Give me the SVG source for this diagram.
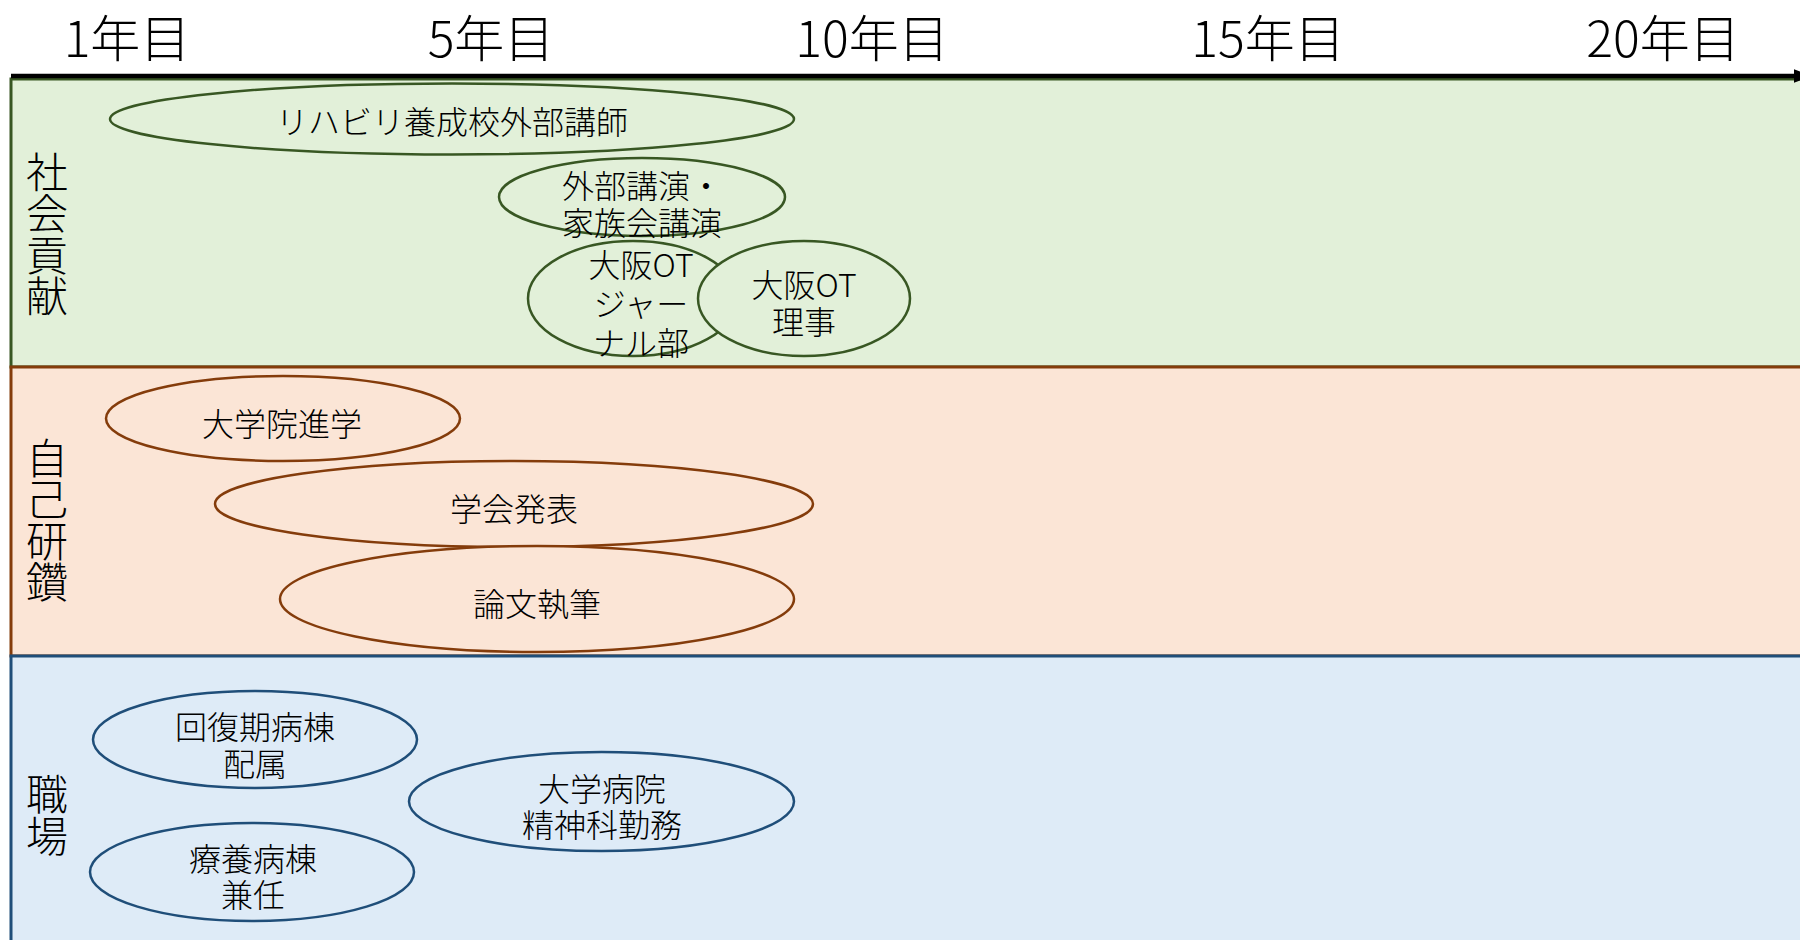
<svg xmlns="http://www.w3.org/2000/svg" width="1800" height="940" viewBox="0 0 1800 940">
<defs>
<style>
text{font-family:"Noto Sans CJK JP","Noto Sans",sans-serif;font-weight:300;fill:#000;text-anchor:middle;dominant-baseline:central}
.ax{font-size:50px}
.lane{font-size:42px;writing-mode:vertical-rl;letter-spacing:-0.5px}
.t{font-size:32px}
.g{fill:#E2F0D9;stroke:#385723}
.o{fill:#FBE5D6;stroke:#843C0B}
.b{fill:#DEEBF7;stroke:#1F4E79}
.band{stroke-width:3}
.el{stroke-width:2.5}
</style>
<marker id="arr" viewBox="0 0 10 10" refX="10" refY="5" markerWidth="4" markerHeight="3" orient="auto" markerUnits="strokeWidth" preserveAspectRatio="none">
<path d="M0,0 L10,5 L0,10 z" fill="#000"/>
</marker>
</defs>
<rect width="1800" height="940" fill="#fff"/>
<g id="bands">
<rect id="band-social" class="g band" x="11" y="79" width="1800" height="288"/>
<rect id="band-self" class="o band" x="11" y="367" width="1800" height="289"/>
<rect id="band-work" class="b band" x="11" y="656" width="1800" height="300"/>
</g>
<g id="connectors">
<line x1="11" y1="76" x2="1812" y2="76" stroke="#000" stroke-width="4.5" marker-end="url(#arr)"/>
</g>
<g id="axis-labels">
<text class="ax" x="127" y="35">1年目</text>
<text class="ax" x="491" y="35">5年目</text>
<text class="ax" x="872" y="35">10年目</text>
<text class="ax" x="1268" y="35">15年目</text>
<text class="ax" x="1663" y="35">20年目</text>
</g>
<g id="lane-social"><text class="lane" x="47" y="234">社会貢献</text></g>
<g id="lane-self"><text class="lane" x="47" y="520">自己研鑽</text></g>
<g id="lane-work"><text class="lane" x="47" y="815">職場</text></g>

<g id="n-rehab"><ellipse class="g el" cx="452" cy="119" rx="342" ry="35.5"/><text class="t" x="452" y="120">リハビリ養成校外部講師</text></g>
<g id="n-lecture"><ellipse class="g el" cx="642" cy="197" rx="143" ry="39"/><text class="t"><tspan x="642" y="184">外部講演・</tspan><tspan x="642" y="221">家族会講演</tspan></text></g>
<g id="n-journal"><ellipse class="g el" cx="633" cy="298.5" rx="105" ry="57.5"/><text class="t"><tspan x="641" y="263">大阪OT</tspan><tspan x="641" y="302">ジャー</tspan><tspan x="641" y="341">ナル部</tspan></text></g>
<g id="n-director"><ellipse class="g el" cx="804" cy="298.5" rx="106" ry="57.5"/><text class="t"><tspan x="804" y="283">大阪OT</tspan><tspan x="804" y="320">理事</tspan></text></g>

<g id="n-grad"><ellipse class="o el" cx="283" cy="418.5" rx="177" ry="42.5"/><text class="t" x="282" y="422">大学院進学</text></g>
<g id="n-conf"><ellipse class="o el" cx="514" cy="504" rx="299" ry="43"/><text class="t" x="514" y="507">学会発表</text></g>
<g id="n-paper"><ellipse class="o el" cx="537" cy="599" rx="257" ry="53"/><text class="t" x="537" y="602">論文執筆</text></g>

<g id="n-recovery"><ellipse class="b el" cx="255" cy="739.5" rx="162" ry="48.5"/><text class="t"><tspan x="255" y="725">回復期病棟</tspan><tspan x="255" y="762">配属</tspan></text></g>
<g id="n-care"><ellipse class="b el" cx="252" cy="872" rx="162" ry="49"/><text class="t"><tspan x="253" y="857">療養病棟</tspan><tspan x="253" y="893">兼任</tspan></text></g>
<g id="n-univ"><ellipse class="b el" cx="601.5" cy="801.5" rx="192.5" ry="49.5"/><text class="t"><tspan x="602" y="787">大学病院</tspan><tspan x="602" y="823">精神科勤務</tspan></text></g>
</svg>
